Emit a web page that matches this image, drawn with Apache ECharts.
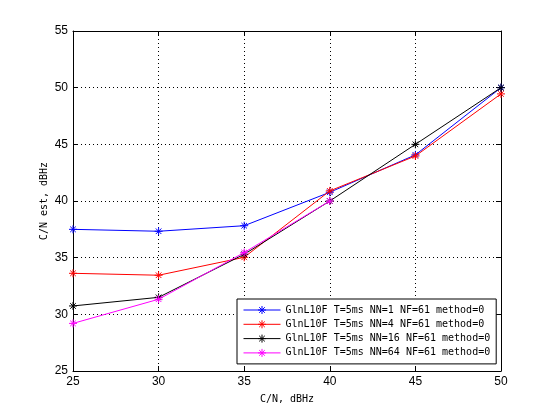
<!DOCTYPE html>
<html>
<head>
<meta charset="utf-8">
<script src="https://cdn.jsdelivr.net/npm/echarts@6/dist/echarts.min.js"></script>
<style>html,body{margin:0;padding:0;background:#fff}#c{width:554px;height:417px}</style>
</head>
<body>
<div id="c"></div>
<script>
var cn = [25, 30, 35, 40, 45, 50];
var nn1 = [37.5, 37.33, 37.82, 40.77, 44.07, 50.0];
var nn4 = [33.62, 33.45, 35.03, 40.89, 43.97, 49.45];
var nn16 = [30.74, 31.5, 35.3, 40.0, 45.0, 50.0];
var nn64 = [29.2, 31.33, 35.45, 40.0, null, null];
var seriesNames = [
  'GlnL10F T=5ms NN=1 NF=61 method=0',
  'GlnL10F T=5ms NN=4 NF=61 method=0',
  'GlnL10F T=5ms NN=16 NF=61 method=0',
  'GlnL10F T=5ms NN=64 NF=61 method=0'
];
var colors = ['#0000ff', '#ff0000', '#000000', '#ff00ff'];
var yTicks = [25, 30, 35, 40, 45, 50, 55];

var star = 'path://M-10,0L10,0M0,-10L0,10M-7,-7L7,7M-7,7L7,-7';
function pairs(v) { return cn.map(function (x, i) { return [x, v[i]]; }).filter(function(p){return p[1]!=null;}); }
var vals = [nn1, nn4, nn16, nn64];
var series = vals.map(function (v, i) {
  return {
    name: seriesNames[i], type: 'line', data: pairs(v),
    symbol: star, symbolSize: 8, showSymbol: true,
    lineStyle: { color: colors[i], width: 1 },
    itemStyle: { color: colors[i], borderColor: colors[i], borderWidth: 1 },
    emphasis: { disabled: true },
    animation: false, z: 2 + i
  };
});
var mono = 'DejaVu Sans Mono';
var axLabel = { color: '#000', fontFamily: 'Liberation Sans', fontSize: 12 };
var chart = echarts.init(document.getElementById('c'));
chart.setOption({
  animation: false,
  grid: { left: 73, right: 53, top: 31, bottom: 46, show: false },
  legend: {
    orient: 'vertical', left: 237, top: 299, width: 248,
    padding: [6, 6, 6, 6], itemGap: 4.3, itemWidth: 37, itemHeight: 10,
    backgroundColor: '#fff', borderColor: '#000', borderWidth: 1, borderRadius: 0,
    itemStyle: { borderWidth: 1 },
    lineStyle: { width: 1 },
    textStyle: { fontFamily: mono, fontSize: 10, color: '#000' },
    data: seriesNames
  },
  xAxis: [{
    type: 'value', min: 25, max: 50, interval: 5,
    name: 'C/N, dBHz', nameLocation: 'middle', nameGap: 23, nameMoveOverlap: false,
    nameTextStyle: { fontFamily: mono, fontSize: 10, color: '#000' },
    axisLine: { show: true, onZero: false, lineStyle: { color: '#000', width: 1 } },
    axisTick: { show: true, inside: true, length: 5, lineStyle: { color: '#000' } },
    axisLabel: Object.assign({ margin: 5 }, axLabel),
    splitLine: { show: true, lineStyle: { color: '#000', type: [1, 3], width: 1 } }
  }, {
    type: 'value', min: 25, max: 50, interval: 5, position: 'top',
    axisLine: { show: true, onZero: false, lineStyle: { color: '#000', width: 1 } },
    axisTick: { show: true, inside: true, length: 5, lineStyle: { color: '#000' } },
    axisLabel: { show: false }, splitLine: { show: false }
  }],
  yAxis: [{
    type: 'value', min: yTicks[0], max: yTicks[yTicks.length - 1], interval: 5,
    name: 'C/N est, dBHz', nameLocation: 'middle', nameGap: 24, nameMoveOverlap: false,
    nameTextStyle: { fontFamily: mono, fontSize: 10, color: '#000' },
    axisLine: { show: true, onZero: false, lineStyle: { color: '#000', width: 1 } },
    axisTick: { show: true, inside: true, length: 5, lineStyle: { color: '#000' } },
    axisLabel: Object.assign({ margin: 5 }, axLabel),
    splitLine: { show: true, lineStyle: { color: '#000', type: [1, 3], width: 1 } }
  }, {
    type: 'value', min: yTicks[0], max: yTicks[yTicks.length - 1], interval: 5, position: 'right',
    axisLine: { show: true, onZero: false, lineStyle: { color: '#000', width: 1 } },
    axisTick: { show: true, inside: true, length: 5, lineStyle: { color: '#000' } },
    axisLabel: { show: false }, splitLine: { show: false }
  }],
  series: series
});
</script>
</body>
</html>
